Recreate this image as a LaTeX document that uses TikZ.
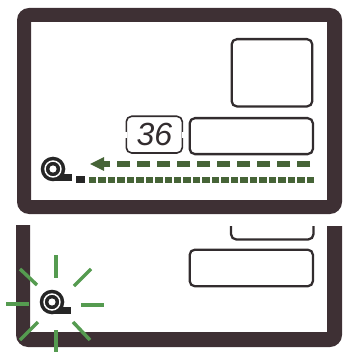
\documentclass[tikz,border=0pt]{standalone}
\usepackage{fontspec}
\setsansfont{Liberation Sans}
\usetikzlibrary{positioning,arrows.meta,calc}
\definecolor{frameline}{RGB}{62,48,52}
\definecolor{boxline}{RGB}{50,44,46}
\definecolor{feed}{RGB}{70,100,55}
\definecolor{ray}{RGB}{85,155,80}
\tikzset{
  x=0.75pt, y=-0.75pt,
  panel/.style={draw=boxline, line width=1.7pt, rounded corners=4pt, inner sep=0pt, anchor=north west},
  burst/.style={draw=ray, line width=2.6pt},
  pics/tape/.style={code={
    \fill[black!85] (-1,5) rectangle (19,12);
    \fill[black!85] (0,0) circle (12.3);
    \draw[white, line width=1.1pt] (0,0) circle (8);
    \fill[white] (0,0) circle (3.6);
  }},
}
\begin{document}
\begin{tikzpicture}
  \useasboundingbox (0,0) rectangle (345,352);

  %% upper view
  \fill[frameline, even odd rule, rounded corners=9pt] (17,8) rectangle (342,214)
    [sharp corners] (31,22) rectangle (327,200);
  \node[panel, minimum width=60.5pt, minimum height=50.5pt] (upper) at (230.5,38) {};
  \node[panel, minimum width=92.5pt, minimum height=27pt] (lower) at (188.5,117) {};
  \node[panel, minimum width=42pt, minimum height=27.5pt, line width=1.2pt] (count) at (125.5,115.5) {};
  \node[font=\sffamily\itshape, text=boxline, scale=2.4] (digits) at (count.center) {36};
  \draw[white, line width=1.6pt] ($(count.west)+(0,-3)$) -- ($(count.west)+(0,3)$);
  \draw[white, line width=1.6pt] ($(count.east)+(0,-3)$) -- ($(count.east)+(0,3)$);

  %% tape feed
  \pic (roll) at (53,169) {tape};
  \coordinate (feedin) at (310,164);
  \coordinate (feedtip) at (90,164);
  \coordinate (feedout) at (314,180);
  \coordinate (feedend) at (87,180);
  \fill[feed] (feedtip) -- ++(14,-7) -- ++(0,14) -- cycle;
  \draw[feed, line width=4.8pt, dash pattern=on 9.4pt off 5.6pt] (feedin) -- ($(feedtip)+(12,0)$);
  \draw[feed, line width=4.8pt, dash pattern=on 5.6pt off 1.5pt] (feedout) -- (feedend);
  \fill[black!85] (76,176.5) rectangle (84.5,183.5);

  %% lower view
  \fill[frameline] (16,225) [rounded corners=9pt] -- (16,347) -- (342,347) [sharp corners] -- (342,226)
    -- (327,226) -- (327,332) -- (30,332) -- (30,225) -- cycle;
  \draw[draw=boxline, line width=1.7pt, rounded corners=4pt] (231,226) -- (231,239.5) -- (313.5,239.5) -- (313.5,226);
  \node[panel, minimum width=92.5pt, minimum height=27.5pt] (jam) at (188.5,248.5) {};
  \pic (jamroll) at (52,302) {tape};

  %% flashes
  \foreach \xa/\ya/\xb/\yb in {56/255/56/278, 74/286/91/269, 81/305/104/305, 73/322/90/340,
                               56/330/56/352, 38/322/20/340, 6/304/29/304, 37/285/20/269}
    \draw[burst] (\xa,\ya) -- (\xb,\yb);
\end{tikzpicture}
\end{document}
